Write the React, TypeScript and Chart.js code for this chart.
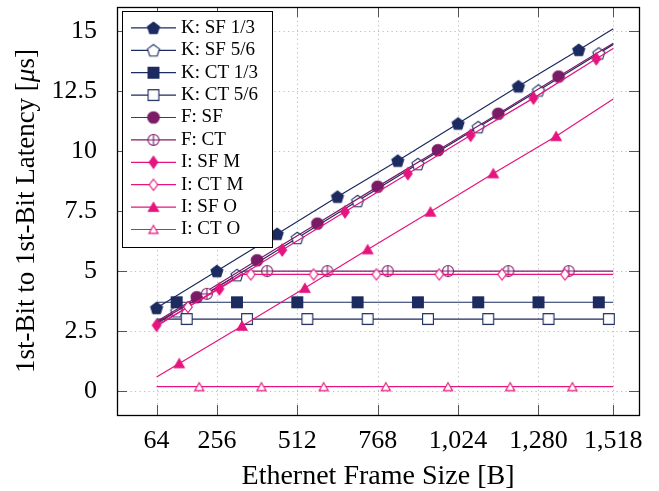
import React, { useEffect, useRef } from 'react';
import { Chart, registerables } from 'chart.js';
Chart.register(...registerables);

const FONT = '"Liberation Serif", "Times New Roman", serif';

const X_TICKS = [64, 256, 512, 768, 1024, 1280, 1518];
const Y_TICKS = [0, 2.5, 5, 7.5, 10, 12.5, 15];
const Y_TICK_LABELS = ['0', '2.5', '5', '7.5', '10', '12.5', '15'];

const X_TITLE = 'Ethernet Frame Size [B]';
const Y_TITLE_PARTS = ['1st-Bit to 1st-Bit Latency [', 'μ', 's]'];

const SERIES_LABELS = [
  'K: SF 1/3', 'K: SF 5/6', 'K: CT 1/3', 'K: CT 5/6', 'F: SF',
  'F: CT', 'I: SF M', 'I: CT M', 'I: SF O', 'I: CT O',
];

// K: SF 1/3
const K_SF13_X = [64, 256, 448, 640, 832, 1024, 1216, 1408, 1518];
const K_SF13_Y = [3.46, 5.0, 6.55, 8.1, 9.6, 11.15, 12.7, 14.22, 15.1];
const K_SF13_M = [1, 1, 1, 1, 1, 1, 1, 1, 0];
// K: SF 5/6
const K_SF56_X = [64, 128, 320, 512, 704, 896, 1088, 1280, 1472, 1518];
const K_SF56_Y = [2.8, 3.32, 4.83, 6.38, 7.92, 9.46, 11.0, 12.53, 14.07, 14.45];
const K_SF56_M = [0, 1, 1, 1, 1, 1, 1, 1, 1, 0];
// K: CT 1/3
const K_CT13_X = [64, 128, 320, 512, 704, 896, 1088, 1280, 1472, 1518];
const K_CT13_Y = [3.7, 3.7, 3.7, 3.7, 3.7, 3.7, 3.7, 3.7, 3.7, 3.7];
const K_CT13_M = [0, 1, 1, 1, 1, 1, 1, 1, 1, 0];
// K: CT 5/6
const K_CT56_X = [64, 160, 352, 544, 736, 928, 1120, 1312, 1504, 1518];
const K_CT56_Y = [3.0, 3.0, 3.0, 3.0, 3.0, 3.0, 3.0, 3.0, 3.0, 3.0];
const K_CT56_M = [0, 1, 1, 1, 1, 1, 1, 1, 1, 0];
// F: SF
const F_SF_X = [64, 192, 384, 576, 768, 960, 1152, 1344, 1518];
const F_SF_Y = [2.9, 3.91, 5.45, 6.98, 8.52, 10.04, 11.56, 13.11, 14.5];
const F_SF_M = [0, 1, 1, 1, 1, 1, 1, 1, 0];
// F: CT
const F_CT_X = [64, 224, 340, 416, 608, 800, 992, 1184, 1376, 1518];
const F_CT_Y = [2.85, 4.05, 5.0, 5.0, 5.0, 5.0, 5.0, 5.0, 5.0, 5.0];
const F_CT_M = [0, 1, 0, 1, 1, 1, 1, 1, 1, 0];
// I: SF M
const I_SFM_X = [64, 264, 464, 664, 864, 1064, 1264, 1464, 1518];
const I_SFM_Y = [2.74, 4.26, 5.88, 7.47, 9.06, 10.66, 12.21, 13.85, 14.28];
const I_SFM_M = [1, 1, 1, 1, 1, 1, 1, 1, 0];
// I: CT M
const I_CTM_X = [64, 164, 334, 364, 564, 764, 964, 1164, 1364, 1518];
const I_CTM_Y = [2.7, 3.5, 4.86, 4.86, 4.86, 4.86, 4.86, 4.86, 4.86, 4.86];
const I_CTM_M = [0, 1, 0, 1, 1, 1, 1, 1, 1, 0];
// I: SF O
const I_SFO_X = [64, 136, 336, 536, 736, 936, 1136, 1336, 1518];
const I_SFO_Y = [0.58, 1.15, 2.71, 4.29, 5.9, 7.47, 9.07, 10.62, 12.17];
const I_SFO_M = [0, 1, 1, 1, 1, 1, 1, 1, 0];
// I: CT O
const I_CTO_X = [64, 200, 398, 596, 794, 992, 1190, 1388, 1518];
const I_CTO_Y = [0.18, 0.18, 0.18, 0.18, 0.18, 0.18, 0.18, 0.18, 0.18];
const I_CTO_M = [0, 1, 1, 1, 1, 1, 1, 1, 0];

const SERIES_X = [K_SF13_X, K_SF56_X, K_CT13_X, K_CT56_X, F_SF_X, F_CT_X, I_SFM_X, I_CTM_X, I_SFO_X, I_CTO_X];
const SERIES_Y = [K_SF13_Y, K_SF56_Y, K_CT13_Y, K_CT56_Y, F_SF_Y, F_CT_Y, I_SFM_Y, I_CTM_Y, I_SFO_Y, I_CTO_Y];
const SERIES_M = [K_SF13_M, K_SF56_M, K_CT13_M, K_CT56_M, F_SF_M, F_CT_M, I_SFM_M, I_CTM_M, I_SFO_M, I_CTO_M];

const NAVY = '#1c2b60';
const PURPLE = '#7a1b66';
const PINK = '#e5147e';

type Style = { color: string; shape: string; filled: boolean };
const STYLES: Style[] = [
  { color: NAVY, shape: 'pentagon', filled: true },
  { color: NAVY, shape: 'pentagon', filled: false },
  { color: NAVY, shape: 'square', filled: true },
  { color: NAVY, shape: 'square', filled: false },
  { color: PURPLE, shape: 'circle', filled: true },
  { color: PURPLE, shape: 'oplus', filled: false },
  { color: PINK, shape: 'diamond', filled: true },
  { color: PINK, shape: 'diamond', filled: false },
  { color: PINK, shape: 'triangle', filled: true },
  { color: PINK, shape: 'triangle', filled: false },
];

function makeMarker(st: Style): HTMLCanvasElement {
  const c = document.createElement('canvas');
  c.width = 16;
  c.height = 16;
  const g = c.getContext('2d')!;
  const cx = 8, cy = 8;
  g.lineWidth = 1.1;
  g.strokeStyle = st.color;
  g.fillStyle = st.filled ? st.color : '#ffffff';
  g.beginPath();
  if (st.shape === 'pentagon') {
    const r = 6.3;
    for (let i = 0; i < 5; i++) {
      const a = -Math.PI / 2 + (i * 2 * Math.PI) / 5;
      const x = cx + r * Math.cos(a), y = cy + 0.6 + r * Math.sin(a);
      if (i === 0) g.moveTo(x, y); else g.lineTo(x, y);
    }
    g.closePath();
  } else if (st.shape === 'square') {
    g.rect(cx - 5.4, cy - 5.4, 10.8, 10.8);
  } else if (st.shape === 'circle') {
    g.arc(cx, cy, 5.8, 0, Math.PI * 2);
  } else if (st.shape === 'oplus') {
    g.arc(cx, cy, 5.5, 0, Math.PI * 2);
  } else if (st.shape === 'diamond') {
    const w = 4.3, h = st.filled ? 6 : 5.5;
    g.moveTo(cx, cy - h); g.lineTo(cx + w, cy); g.lineTo(cx, cy + h); g.lineTo(cx - w, cy);
    g.closePath();
  } else if (st.shape === 'triangle') {
    const r = st.filled ? 5.9 : 5.3;
    for (let i = 0; i < 3; i++) {
      const a = -Math.PI / 2 + (i * 2 * Math.PI) / 3;
      const x = cx + r * Math.cos(a), y = cy + 1.2 + r * Math.sin(a);
      if (i === 0) g.moveTo(x, y); else g.lineTo(x, y);
    }
    g.closePath();
  }
  g.fill();
  g.stroke();
  if (st.shape === 'oplus') {
    g.beginPath();
    g.moveTo(cx - 5.5, cy); g.lineTo(cx + 5.5, cy);
    g.moveTo(cx, cy - 5.5); g.lineTo(cx, cy + 5.5);
    g.stroke();
  }
  return c;
}

export default function App() {
  const ref = useRef<HTMLCanvasElement | null>(null);
  useEffect(() => {
    if (!ref.current) return;
    const markers = STYLES.map(makeMarker);

    const datasets = SERIES_LABELS.map((label, i) => ({
      label,
      data: SERIES_X[i].map((x, j) => ({ x, y: SERIES_Y[i][j] })),
      borderColor: STYLES[i].color,
      backgroundColor: STYLES[i].color,
      borderWidth: 1.2,
      pointStyle: markers[i] as any,
      pointRadius: SERIES_M[i].map((m) => (m ? 6 : 0)),
      pointHoverRadius: 0,
      tension: 0,
      order: SERIES_LABELS.length - i,
    }));

    const framePlugin = {
      id: 'frame',
      beforeDatasetsDraw(chart: any) {
        const { ctx, chartArea: a, scales } = chart;
        ctx.save();
        ctx.strokeStyle = '#bdbdbd';
        ctx.lineWidth = 1;
        ctx.setLineDash([1.2, 3.3]);
        X_TICKS.forEach((v) => {
          const px = Math.round(scales.x.getPixelForValue(v)) + 0.5;
          ctx.beginPath(); ctx.moveTo(px, a.top); ctx.lineTo(px, a.bottom); ctx.stroke();
        });
        Y_TICKS.forEach((v) => {
          const py = Math.round(scales.y.getPixelForValue(v)) + 0.5;
          ctx.beginPath(); ctx.moveTo(a.left, py); ctx.lineTo(a.right, py); ctx.stroke();
        });
        ctx.restore();
      },
      afterDatasetsDraw(chart: any) {
        const { ctx, chartArea: a, scales } = chart;
        ctx.save();
        ctx.strokeStyle = '#555555';
        ctx.lineWidth = 1;
        const tl = 10;
        X_TICKS.forEach((v) => {
          const px = Math.round(scales.x.getPixelForValue(v)) + 0.5;
          ctx.beginPath();
          ctx.moveTo(px, a.bottom); ctx.lineTo(px, a.bottom - tl);
          ctx.moveTo(px, a.top); ctx.lineTo(px, a.top + tl);
          ctx.stroke();
        });
        Y_TICKS.forEach((v) => {
          const py = Math.round(scales.y.getPixelForValue(v)) + 0.5;
          ctx.beginPath();
          ctx.moveTo(a.left, py); ctx.lineTo(a.left + tl, py);
          ctx.moveTo(a.right, py); ctx.lineTo(a.right - tl, py);
          ctx.stroke();
        });
        ctx.strokeStyle = '#000000';
        ctx.lineWidth = 1.3;
        ctx.strokeRect(Math.round(a.left) + 0.5, Math.round(a.top) + 0.5,
          Math.round(a.right - a.left), Math.round(a.bottom - a.top));

        // y-axis title with italic mu
        const upright = '27px ' + FONT;
        const italic = 'italic 27px ' + FONT;
        const fonts = [upright, italic, upright];
        const widths = Y_TITLE_PARTS.map((t, k) => { ctx.font = fonts[k]; return ctx.measureText(t).width; });
        const total = widths.reduce((s, w) => s + w, 0);
        ctx.save();
        ctx.translate(27, (a.top + a.bottom) / 2);
        ctx.rotate(-Math.PI / 2);
        ctx.fillStyle = '#000000';
        ctx.textBaseline = 'middle';
        ctx.textAlign = 'left';
        let tx = -total / 2;
        Y_TITLE_PARTS.forEach((t, k) => {
          ctx.font = fonts[k];
          ctx.fillText(t, tx, 0);
          tx += widths[k];
        });
        ctx.restore();

        // legend
        const bx = a.left + 5, by = a.top + 4, bw = 150, bh = 236;
        ctx.fillStyle = '#ffffff';
        ctx.fillRect(bx, by, bw, bh);
        ctx.strokeStyle = '#000000';
        ctx.lineWidth = 1;
        ctx.strokeRect(Math.round(bx) + 0.5, Math.round(by) + 0.5, bw, bh);
        ctx.font = '19px ' + FONT;
        ctx.textBaseline = 'middle';
        ctx.textAlign = 'left';
        SERIES_LABELS.forEach((lab, i) => {
          const y = by + 16.7 + 22.4 * i;
          ctx.strokeStyle = STYLES[i].color;
          ctx.lineWidth = 1.2;
          ctx.beginPath(); ctx.moveTo(bx + 9, y); ctx.lineTo(bx + 54, y); ctx.stroke();
          const m = markers[i];
          ctx.drawImage(m, bx + 31.5 - m.width / 2, y - m.height / 2);
          ctx.fillStyle = '#000000';
          ctx.fillText(lab, bx + 59, y);
        });
        ctx.restore();
      },
    };

    const chart = new Chart(ref.current, {
      type: 'line',
      data: { datasets: datasets as any },
      options: {
        animation: false,
        responsive: false,
        devicePixelRatio: 1,
        layout: { padding: { top: 6, right: 20, bottom: 0, left: 0 } },
        plugins: { legend: { display: false }, tooltip: { enabled: false } },
        events: [],
        scales: {
          x: {
            type: 'linear',
            min: -62,
            max: 1600,
            grid: { display: false },
            border: { display: false },
            afterBuildTicks: (s: any) => { s.ticks = X_TICKS.map((v) => ({ value: v })); },
            afterFit: (s: any) => { s.height = 76; s.paddingLeft = 0; s.paddingRight = 0; },
            ticks: {
              color: '#000',
              padding: 3,
              maxRotation: 0,
              autoSkip: false,
              font: { family: FONT, size: 26 },
              callback: (v: any) => Number(v).toLocaleString('en-US'),
            },
            title: {
              display: true,
              text: X_TITLE,
              color: '#000',
              font: { family: FONT, size: 28, lineHeight: 1 },
              padding: { top: 0, bottom: 0 },
            },
          },
          y: {
            type: 'linear',
            min: -1,
            max: 16,
            grid: { display: false },
            border: { display: false },
            afterBuildTicks: (s: any) => { s.ticks = Y_TICKS.map((v) => ({ value: v })); },
            afterFit: (s: any) => { s.width = 117; s.paddingTop = 0; s.paddingBottom = 0; },
            ticks: {
              color: '#000',
              padding: 12,
              autoSkip: false,
              font: { family: FONT, size: 26 },
              callback: (v: any) => {
                const k = Y_TICKS.indexOf(Number(v));
                return k >= 0 ? Y_TICK_LABELS[k] : '';
              },
            },
            title: { display: false },
          },
        },
      },
      plugins: [framePlugin],
    });
    return () => chart.destroy();
  }, []);

  return (
    <div style={{ position: 'fixed', left: 0, top: 0, width: 659, height: 491 }}>
      <canvas ref={ref} width={659} height={491} style={{ display: 'block' }} />
    </div>
  );
}
